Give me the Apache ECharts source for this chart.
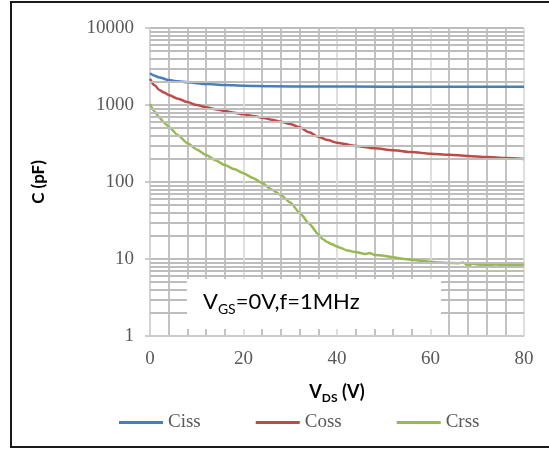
<!DOCTYPE html>
<html>
<head>
<meta charset="utf-8">
<title>Capacitance vs VDS</title>
<script src="https://cdn.jsdelivr.net/npm/echarts@6.0.0/dist/echarts.min.js"></script>
<style>
  html, body { margin: 0; padding: 0; background: #fff; }
  #chart { width: 549px; height: 449px; }
</style>
</head>
<body>
<div id="chart"></div>
<script>
// 数据 (V, pF)
var cissV = [0, 1, 2, 4, 6, 8, 12, 16, 20, 26, 35, 50, 65, 80];
var cissC = [2580, 2400, 2280, 2110, 2030, 1970, 1875, 1820, 1780, 1750, 1735, 1730, 1730, 1730];

var cossV = [0, 1, 2, 3, 4, 6, 8, 10, 12, 14, 16, 18, 20, 22, 24, 26, 28, 30, 32, 34, 36, 38, 40, 44, 48, 52, 56, 60, 64, 68, 72, 76, 80];
var cossC = [2180, 1800, 1570, 1450, 1350, 1210, 1090, 1000, 935, 880, 835, 795, 757, 722, 685, 645, 607, 566, 513, 442, 387, 351, 324, 294, 274, 258, 245, 233, 226, 218, 211, 205, 199];

var crssV = [0, 1, 2, 3, 4, 6, 8, 10, 12, 14, 16, 18, 20, 22, 24, 26, 28, 30, 32, 34, 36, 37, 38, 39, 40, 41, 42, 44, 46, 47, 48, 50, 52, 54, 56, 58, 60, 62, 64, 66, 67, 68, 69, 70, 72, 74, 76, 78, 80];
var crssC = [1030, 820, 690, 590, 523, 405, 318, 265, 224, 192, 166, 147, 130, 113, 97, 80, 68, 54, 40, 29, 21, 18, 16.5, 15.5, 14.5, 13.8, 13, 12.3, 11.6, 12, 11.3, 11, 10.5, 10.1, 9.8, 9.5, 9.2, 9.0, 8.9, 8.8, 9.0, 8.2, 8.7, 8.5, 8.4, 8.5, 8.3, 8.3, 8.5];

var seriesNames = ['Ciss', 'Coss', 'Crss'];
var seriesColors = ['#4a7ebb', '#be4b48', '#98b954'];

// 对数轴次网格 2..9 每个十倍程
var yMinorGrid = [2, 3, 4, 5, 6, 7, 8, 9, 20, 30, 40, 50, 60, 70, 80, 90, 200, 300, 400, 500, 600, 700, 800, 900, 2000, 3000, 4000, 5000, 6000, 7000, 8000, 9000];

var gridGray = '#bdbdbd';

function pairs(xs, ys) {
  return xs.map(function (x, i) { return [x, ys[i]]; });
}

var labelFont = {
  color: '#595959',
  fontFamily: 'Liberation Serif',
  fontSize: 19
};

var chart = echarts.init(document.getElementById('chart'));

var option = {
  animation: false,
  grid: {
    left: 150,
    right: 25,
    top: 28,
    bottom: 113
  },
  legend: {
    data: seriesNames,
    left: 114,
    top: 408,
    icon: 'rect',
    itemWidth: 44,
    itemHeight: 3,
    itemGap: 55,
    textStyle: labelFont
  },
  xAxis: {
    type: 'value',
    min: 0,
    max: 80,
    interval: 20,
    name: '{b|V}{s|DS}{b| (V)}',
    nameLocation: 'middle',
    nameGap: 44,
    nameTextStyle: {
      rich: {
        b: { fontFamily: 'Lato', fontWeight: 'bold', fontSize: 18, lineHeight: 24, color: '#000' },
        s: { fontFamily: 'Lato', fontWeight: 'bold', fontSize: 12, lineHeight: 11, verticalAlign: 'bottom', color: '#000' }
      }
    },
    axisLine: { lineStyle: { color: '#d0d0d0', width: 1.5 } },
    axisTick: { show: false },
    axisLabel: Object.assign({ margin: 14 }, labelFont),
    splitLine: { show: true, lineStyle: { color: '#dcdcdc', width: 1.8 } },
    minorTick: { show: false, splitNumber: 5 },
    minorSplitLine: { show: true, lineStyle: { color: gridGray, width: 1.8 } }
  },
  yAxis: {
    type: 'log',
    logBase: 10,
    min: 1,
    max: 10000,
    name: 'C (pF)',
    nameLocation: 'middle',
    nameGap: 103,
    nameTextStyle: { fontFamily: 'Lato', fontWeight: 'bold', fontSize: 17, color: '#000' },
    axisLine: { show: true, lineStyle: { color: '#d0d0d0', width: 1.5 } },
    axisTick: { show: true, length: 5, lineStyle: { color: gridGray, width: 1.5 } },
    axisLabel: Object.assign({
      margin: 16,
      formatter: function (v) { return String(v); }
    }, labelFont),
    splitLine: { show: true, lineStyle: { color: gridGray, width: 1.8 } }
  },
  graphic: [
    {
      // 外框
      type: 'rect',
      z: 100,
      shape: { x: 11, y: 2, width: 600, height: 445 },
      style: { fill: 'none', stroke: '#1a1a1a', lineWidth: 2 }
    },
    {
      // 测试条件标注
      type: 'rect',
      z: 100,
      shape: { x: 187, y: 279, width: 254, height: 50 },
      style: { fill: '#fff' }
    },
    {
      type: 'text',
      z: 101,
      left: 203,
      top: 291,
      style: {
        text: '{b|V}{s|GS}{b|=0V,f=1MHz}',
        rich: {
          b: { fontFamily: 'Lato', fontSize: 22, lineHeight: 28, fill: '#000' },
          s: { fontFamily: 'Lato', fontSize: 14, lineHeight: 14, verticalAlign: 'bottom', fill: '#000' }
        }
      }
    }
  ],
  series: [
    {
      // 次网格线
      name: 'grid',
      type: 'line',
      data: [],
      z: 1,
      silent: true,
      markLine: {
        silent: true,
        symbol: 'none',
        animation: false,
        label: { show: false },
        lineStyle: { color: gridGray, width: 1.8, type: 'solid' },
        emphasis: { disabled: true },
        data: yMinorGrid.map(function (v) { return { yAxis: v }; })
      }
    },
    {
      name: 'Ciss',
      type: 'line',
      smooth: 0.3,
      smoothMonotone: 'x',
      symbol: 'none',
      color: seriesColors[0],
      lineStyle: { width: 2.5 },
      data: pairs(cissV, cissC)
    },
    {
      name: 'Coss',
      type: 'line',
      smooth: 0.3,
      smoothMonotone: 'x',
      symbol: 'none',
      color: seriesColors[1],
      lineStyle: { width: 2.5 },
      data: pairs(cossV, cossC)
    },
    {
      name: 'Crss',
      type: 'line',
      smooth: 0.2,
      smoothMonotone: 'x',
      symbol: 'none',
      color: seriesColors[2],
      lineStyle: { width: 2.5 },
      data: pairs(crssV, crssC)
    }
  ]
};

chart.setOption(option);
</script>
</body>
</html>
